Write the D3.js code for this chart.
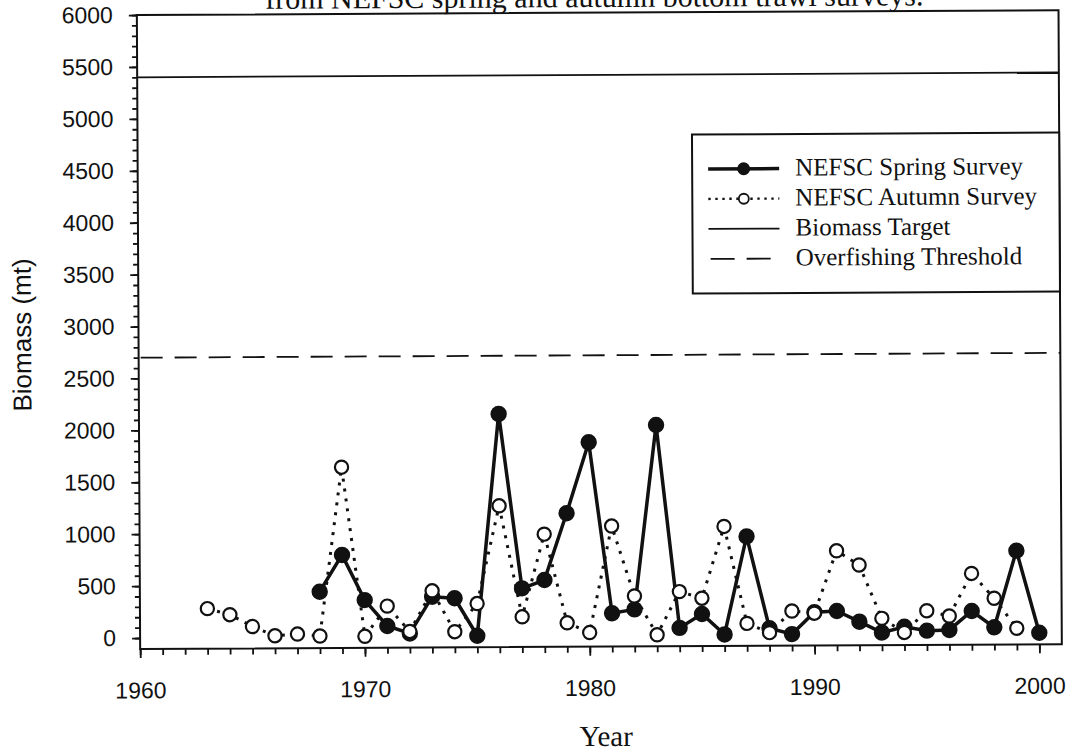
<!DOCTYPE html>
<html>
<head>
<meta charset="utf-8">
<script src="https://cdn.jsdelivr.net/npm/d3@7"></script>
<style>
    body { margin: 0; background: #ffffff; }
    #main { width: 1073px; height: 754px; }
</style>
</head>
<body>
<div id="main"></div>
<script>
// survey values (mt)
const springYears = [1968, 1969, 1970, 1971, 1972, 1973, 1974, 1975, 1976, 1977, 1978,
    1979, 1980, 1981, 1982, 1983, 1984, 1985, 1986, 1987, 1988, 1989, 1990, 1991, 1992,
    1993, 1994, 1995, 1996, 1997, 1998, 1999, 2000];
const springBiomass = [437, 790, 354, 103, 30, 383, 367, 5, 2140, 459, 538,
    1180, 1862, 214, 251, 2025, 70, 203, 5, 948, 62, 5, 215, 225, 121,
    15, 70, 31, 37, 218, 60, 797, 5];

const autumnYears = [1963, 1964, 1965, 1966, 1967, 1968, 1969, 1970, 1971, 1972, 1973,
    1974, 1975, 1976, 1977, 1978, 1979, 1980, 1981, 1982, 1983, 1984, 1985, 1986, 1987,
    1988, 1989, 1990, 1991, 1992, 1993, 1994, 1995, 1996, 1997, 1998, 1999];
const autumnBiomass = [280, 220, 105, 15, 30, 10, 1635, 5, 295, 50, 440,
    45, 315, 1255, 185, 980, 125, 30, 1055, 380, 5, 420, 355, 1045, 110,
    20, 227, 205, 805, 667, 152, 15, 223, 171, 580, 340, 50];

const biomassTarget = 5400;
const overfishingThreshold = 2700;

const yMajorTicks = [0, 500, 1000, 1500, 2000, 2500, 3000, 3500, 4000, 4500, 5000, 5500, 6000];
const xMajorTicks = [1960, 1970, 1980, 1990, 2000];

const legendLabels = ["NEFSC Spring Survey", "NEFSC Autumn Survey", "Biomass Target", "Overfishing Threshold"];
const titleText = "from NEFSC spring and autumn bottom trawl surveys.";
const xTitle = "Year";
const yTitle = "Biomass (mt)";

const chartCtx = {
    WIDTH: 1073,
    HEIGHT: 754,
    LEFT: 138.5,
    TOP: 12.6,
    ZERO_Y: 635.6,
    YEAR_PX: 22.48,
    AXIS_FLOOR: -106,
    TILT: -0.3,   // the scanned page is slightly turned
    SANS: "'Liberation Sans', Arial, sans-serif",
    SERIF: "'Liberation Serif', 'Times New Roman', serif",
    INK: "#111"
};

function drawAxes(g, x, y) {

    const yMinor = d3.axisLeft(y)
        .tickValues(d3.range(0, 6001, 100))
        .tickSize(5)
        .tickFormat("");
    const yMajor = d3.axisLeft(y)
        .tickValues(yMajorTicks)
        .tickSize(8)
        .tickPadding(16)
        .tickFormat(d3.format("d"));

    const xMinor = d3.axisBottom(x)
        .tickValues(d3.range(1960, 2001, 1))
        .tickSize(6)
        .tickFormat("");
    const xMajor = d3.axisBottom(x)
        .tickValues(xMajorTicks)
        .tickSize(9)
        .tickPadding(24)
        .tickFormat(d3.format("d"));

    let floorY = y(chartCtx.AXIS_FLOOR);

    [yMinor, yMajor].forEach(ax => {
        g.append("g")
            .attr("transform", `translate(${chartCtx.LEFT},0)`)
            .call(ax);
    });
    [xMinor, xMajor].forEach(ax => {
        g.append("g")
            .attr("transform", `translate(0,${floorY})`)
            .call(ax);
    });

    g.selectAll(".domain").remove();
    g.selectAll(".tick line")
        .attr("stroke", chartCtx.INK)
        .attr("stroke-width", 1.8);
    g.selectAll(".tick text")
        .attr("fill", chartCtx.INK)
        .style("font-family", chartCtx.SANS)
        .style("font-size", "23px");

    // frame round the plot
    g.append("rect")
        .attr("x", chartCtx.LEFT)
        .attr("y", y(6000))
        .attr("width", x(2001) - chartCtx.LEFT)
        .attr("height", floorY - y(6000))
        .attr("fill", "none")
        .attr("stroke", chartCtx.INK)
        .attr("stroke-width", 2);
}

function drawChart() {

    let svg = d3.select("#main").append("svg")
        .attr("width", chartCtx.WIDTH)
        .attr("height", chartCtx.HEIGHT);

    let g = svg.append("g")
        .attr("transform", `rotate(${chartCtx.TILT},600,330)`);

    let x = d3.scaleLinear()
        .domain([1960, 2001])
        .range([chartCtx.LEFT, chartCtx.LEFT + 41 * chartCtx.YEAR_PX]);
    let y = d3.scaleLinear()
        .domain([0, 6000])
        .range([chartCtx.ZERO_Y, chartCtx.TOP]);

    // title (cut off at the top of the page, as in the scan)
    g.append("text")
        .attr("x", 596)
        .attr("y", 7)
        .attr("text-anchor", "middle")
        .style("font-family", chartCtx.SERIF)
        .style("font-size", "30px")
        .attr("fill", chartCtx.INK)
        .text(titleText);

    drawAxes(g, x, y);

    // reference lines
    g.append("line")
        .attr("x1", x(1960)).attr("x2", x(2001))
        .attr("y1", y(biomassTarget)).attr("y2", y(biomassTarget))
        .attr("stroke", chartCtx.INK)
        .attr("stroke-width", 1.8);

    g.append("line")
        .attr("x1", x(1960) + 2).attr("x2", x(2001))
        .attr("y1", y(overfishingThreshold)).attr("y2", y(overfishingThreshold))
        .attr("stroke", chartCtx.INK)
        .attr("stroke-width", 1.8)
        .attr("stroke-dasharray", "22,12");

    let spring = springYears.map((yr, i) => ({ year: yr, value: springBiomass[i] }));
    let autumn = autumnYears.map((yr, i) => ({ year: yr, value: autumnBiomass[i] }));

    let lineGen = d3.line()
        .x(d => x(d.year))
        .y(d => y(d.value));

    g.append("path")
        .datum(spring)
        .attr("d", lineGen)
        .attr("fill", "none")
        .attr("stroke", chartCtx.INK)
        .attr("stroke-width", 3.5)
        .attr("stroke-linejoin", "miter");

    g.append("path")
        .datum(autumn)
        .attr("d", lineGen)
        .attr("fill", "none")
        .attr("stroke", chartCtx.INK)
        .attr("stroke-width", 3)
        .attr("stroke-dasharray", "3,7");

    g.selectAll("circle.spring")
        .data(spring)
        .enter()
        .append("circle")
        .attr("class", "spring")
        .attr("cx", d => x(d.year))
        .attr("cy", d => y(d.value))
        .attr("r", 8.2)
        .attr("fill", chartCtx.INK);

    g.selectAll("circle.autumn")
        .data(autumn)
        .enter()
        .append("circle")
        .attr("class", "autumn")
        .attr("cx", d => x(d.year))
        .attr("cy", d => y(d.value))
        .attr("r", 6.6)
        .attr("fill", "#fff")
        .attr("stroke", chartCtx.INK)
        .attr("stroke-width", 2.2);

    drawLegend(g, x);

    // axis titles
    g.append("text")
        .attr("x", 604)
        .attr("y", 746)
        .attr("text-anchor", "middle")
        .style("font-family", chartCtx.SERIF)
        .style("font-size", "29px")
        .attr("fill", chartCtx.INK)
        .text(xTitle);

    g.append("text")
        .attr("transform", "translate(31,332) rotate(-90)")
        .attr("text-anchor", "middle")
        .style("font-family", chartCtx.SANS)
        .style("font-size", "26px")
        .attr("fill", chartCtx.INK)
        .text(yTitle);
}

function drawLegend(g, x) {

    let boxLeft = 693, boxTop = 135, boxRight = x(2001), boxBottom = 294;

    let legendG = g.append("g").attr("class", "legend");

    legendG.append("rect")
        .attr("x", boxLeft)
        .attr("y", boxTop)
        .attr("width", boxRight - boxLeft)
        .attr("height", boxBottom - boxTop)
        .attr("fill", "#fff")
        .attr("stroke", chartCtx.INK)
        .attr("stroke-width", 2);

    let rows = legendG.selectAll("g.row")
        .data(legendLabels)
        .enter()
        .append("g")
        .attr("class", "row")
        .attr("transform", (d, i) => `translate(0,${176.5 + i * 30})`);

    rows.append("text")
        .attr("x", 796)
        .attr("y", 0)
        .style("font-family", chartCtx.SERIF)
        .style("font-size", "25px")
        .attr("fill", chartCtx.INK)
        .text(d => d);

    let sy = -7;
    let styles = [
        { x1: 709, x2: 780, width: 3.5, dash: null },
        { x1: 709, x2: 780, width: 2.4, dash: "2.4,4.6" },
        { x1: 709, x2: 780, width: 1.8, dash: null },
        { x1: 711, x2: 771, width: 1.8, dash: "24,12" }
    ];

    rows.append("line")
        .attr("x1", (d, i) => styles[i].x1)
        .attr("x2", (d, i) => styles[i].x2)
        .attr("y1", sy).attr("y2", sy)
        .attr("stroke", chartCtx.INK)
        .attr("stroke-width", (d, i) => styles[i].width)
        .attr("stroke-dasharray", (d, i) => styles[i].dash);

    rows.filter((d, i) => i === 0)
        .append("circle")
        .attr("cx", 744.5)
        .attr("cy", sy)
        .attr("r", 6.5)
        .attr("fill", chartCtx.INK);

    rows.filter((d, i) => i === 1)
        .append("circle")
        .attr("cx", 744.5)
        .attr("cy", sy)
        .attr("r", 5)
        .attr("fill", "#fff")
        .attr("stroke", chartCtx.INK)
        .attr("stroke-width", 1.8);
}

drawChart();
</script>
</body>
</html>
